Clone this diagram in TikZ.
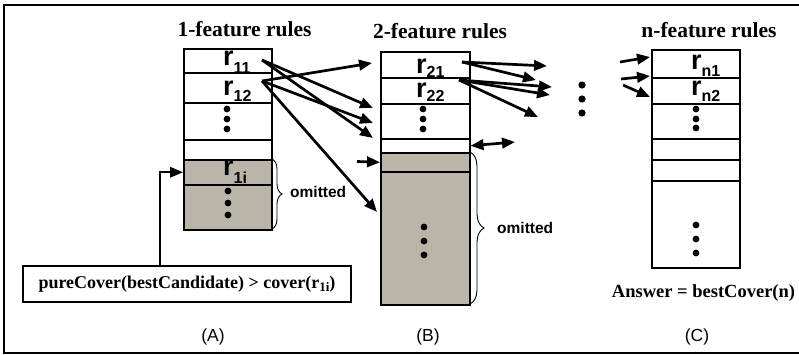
\documentclass[tikz,border=0pt]{standalone}
\usepackage{fontspec}
\setmainfont{Liberation Serif}
\newfontfamily\arial{Liberation Sans}
\usetikzlibrary{arrows.meta,decorations.pathreplacing}

\definecolor{omitgray}{RGB}{185,182,169}

% rule label: large bold r with a lowered index
\newcommand\rulelab[2]{{\arial\bfseries\fontsize{27}{27}\selectfont r\raisebox{-#2}{\fontsize{16}{16}\selectfont #1}}}

\begin{document}
\begin{tikzpicture}[x=1pt,y=-1pt,
  cell/.style={draw,line width=1.5pt,fill=white,inner sep=0pt,anchor=north west},
  greycell/.style={cell,fill=omitgray},
  tip/.style={},
  link/.style={line width=2.7pt,-{Triangle[length=13pt,width=10.5pt]}},
  title/.style={font=\fontsize{21.5}{21.5}\selectfont\bfseries,anchor=base,inner sep=0pt},
  caption/.style={font=\arial\fontsize{17.5}{17.5}\selectfont,inner sep=0pt},
  omit/.style={font=\arial\bfseries\fontsize{15.5}{15.5}\selectfont,anchor=west,inner sep=0pt},
  bracebar/.style={line width=0.9pt,decorate},
  lab/.style={anchor=base west,inner sep=0pt}
]
\useasboundingbox (0,0) rectangle (799,354);
\fill[white] (0,0) rectangle (799,354);
\draw[line width=2pt] (805,5) -- (3.5,5) -- (3.5,353) -- (805,353);

% ---------- column A: 1-feature rules ----------
\node[title] (ta) at (244.5,36.5) {1-feature rules};
\node[cell,minimum width=88,minimum height=24] (a1) at (183,48) {};
\node[cell,minimum width=88,minimum height=30] (a2) at (183,72) {};
\node[cell,minimum width=88,minimum height=37] (a3) at (183,102) {};
\node[cell,minimum width=88,minimum height=20] (a4) at (183,139) {};
\node[greycell,minimum width=88,minimum height=25] (a5) at (183,159) {};
\node[greycell,minimum width=88,minimum height=45] (a6) at (183,184) {};
\node[lab] (r11) at (223,65.7) {\rulelab{11}{7.5pt}};
\node[lab] (r12) at (223,95) {\rulelab{12}{6.7pt}};
\node[lab] (r1i) at (223,175) {\rulelab{1i}{8pt}};
\foreach \y in {109,119,129} \fill (227,\y) circle (3.4);
\foreach \y in {191,203,215} \fill (228,\y) circle (3.4);
\draw[bracebar,decoration={brace,amplitude=10pt}] (272,159) -- (272,229);
\node[omit] (oa) at (290,192) {omitted};

% ---------- column B: 2-feature rules ----------
\node[title] (tb) at (440,38.3) {2-feature rules};
\node[cell,minimum width=89,minimum height=26] (b1) at (380,51) {};
\node[cell,minimum width=89,minimum height=26] (b2) at (380,77) {};
\node[cell,minimum width=89,minimum height=35] (b3) at (380,103) {};
\node[cell,minimum width=89,minimum height=14] (b4) at (380,138) {};
\node[greycell,minimum width=89,minimum height=19] (b5) at (380,152) {};
\node[greycell,minimum width=89,minimum height=133] (b6) at (380,171) {};
\node[lab] (r21) at (416,73) {\rulelab{21}{4pt}};
\node[lab] (r22) at (416,97.3) {\rulelab{22}{4.5pt}};
\foreach \y in {109,119,129} \fill (423,\y) circle (3.4);
\foreach \y in {227,241,255} \fill (424,\y) circle (3.4);
\draw[bracebar,decoration={brace,amplitude=14pt}] (470,152) -- (470,304);
\node[omit] (ob) at (497,228) {omitted};

% ---------- gap between B and C ----------
\foreach \y in {85,99,113} \fill (582,\y) circle (3.6);

% ---------- column C: n-feature rules ----------
\node[title] (tc) at (709,37.3) {n-feature rules};
\node[cell,minimum width=88,minimum height=28] (c1) at (651,49) {};
\node[cell,minimum width=88,minimum height=26] (c2) at (651,77) {};
\node[cell,minimum width=88,minimum height=35] (c3) at (651,103) {};
\node[cell,minimum width=88,minimum height=21] (c4) at (651,138) {};
\node[cell,minimum width=88,minimum height=21] (c5) at (651,159) {};
\node[cell,minimum width=88,minimum height=87] (c6) at (651,180) {};
\node[lab] (rn1) at (691,69) {\rulelab{n1}{7pt}};
\node[lab] (rn2) at (691,95) {\rulelab{n2}{6.5pt}};
\foreach \y in {109,119,128} \fill (696,\y) circle (3.4);
\foreach \y in {225,239,253} \fill (696,\y) circle (3.4);
\node[title,font=\fontsize{18.5}{18.5}\selectfont\bfseries] (ans) at (703.5,297.7) {Answer = bestCover(n)};

% ---------- pruning condition ----------
\node[draw,line width=1.5pt,minimum width=328,minimum height=36,inner sep=0pt,
      font=\fontsize{18}{18}\selectfont\bfseries] (cond) at (187,284)
      {pureCover(bestCandidate) > cover(r\raisebox{-3.5pt}{\fontsize{13}{13}\selectfont 1i})};
\coordinate (condtop) at (160,266);
\draw[line width=2pt,-{Triangle[length=13pt,width=10.5pt]}] (condtop) |- (a5.west);

% ---------- candidate links A -> B ----------
\coordinate (s11) at (262,60);
\coordinate (s12) at (262,81);
\coordinate (eb1) at (372,63);
\coordinate (eb2) at (373,108);
\coordinate (eb3) at (373,123);
\coordinate (eb4) at (373,138);
\coordinate (eb5) at (377,212);
\draw[link] (s12) -- (eb1);
\draw[link] (s11) -- (eb2);
\draw[link] (s12) -- (eb3);
\draw[link] (s11) -- (eb4);
\draw[link] (s12) -- (eb5);
\coordinate (inb) at (357,161.5);
\draw[link] (inb) -- (b5.west);

% ---------- links B -> next level ----------
\coordinate (s21) at (462,62);
\coordinate (s22) at (459,80);
\coordinate (em1) at (547,66);
\coordinate (em2) at (536,80);
\coordinate (em3) at (552,87);
\coordinate (em4) at (550,95);
\coordinate (em5) at (538,117);
\draw[link] (s21) -- (em1);
\draw[link] (s21) -- (em2);
\draw[link] (s22) -- (em3);
\draw[link] (s22) -- (em4);
\draw[link] (s22) -- (em5);
\coordinate (dr) at (515,142);
\draw[line width=2.7pt,{Triangle[length=13pt,width=10.5pt]}-{Triangle[length=13pt,width=10.5pt]}] (b4.east) -- (dr);

% ---------- links into C ----------
\coordinate (sc1) at (620,62);
\coordinate (sc2) at (621,79);
\coordinate (sc3) at (623,85);
\coordinate (ec1) at (650,57);
\coordinate (ec2) at (650,76);
\coordinate (ec3) at (650,97);
\draw[link] (sc1) -- (ec1);
\draw[link] (sc2) -- (ec2);
\draw[link] (sc3) -- (ec3);

% ---------- panel captions ----------
\node[caption] (capa) at (213,337) {(A)};
\node[caption] (capb) at (428,337) {(B)};
\node[caption] (capc) at (697,337) {(C)};
\end{tikzpicture}
\end{document}
